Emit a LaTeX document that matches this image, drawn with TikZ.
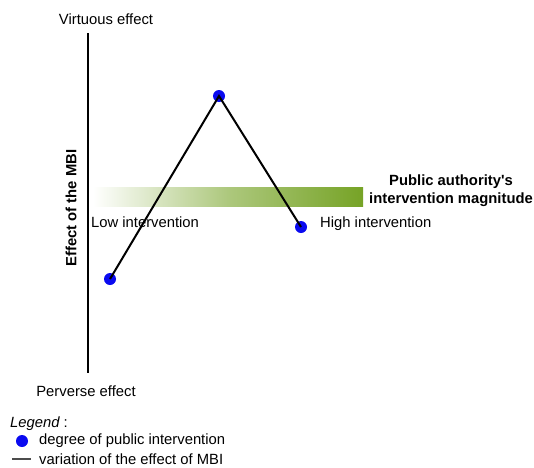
\documentclass[tikz,border=0pt]{standalone}
\usepackage{fontspec}
\setmainfont[Ligatures=TeXOff]{Liberation Sans}
\definecolor{barGreen}{RGB}{118,163,38}
\definecolor{dotBlue}{RGB}{10,10,240}
\newcommand{\lbl}{\fontsize{14.8}{17}\selectfont}

\begin{document}
\begin{tikzpicture}[x=1pt,y=-1pt,
    dot/.style={circle,fill=dotBlue,inner sep=0pt,minimum size=12pt},
    txt/.style={font=\lbl,inner sep=0pt}]
   \useasboundingbox (0,0) rectangle (534,467);
   % intervention magnitude bar
   \shade[left color=white,right color=barGreen,middle color=barGreen!60] (93,187) rectangle (363,206);
   % vertical axis
   \draw[line width=2.5pt] (88,33) -- (88,373);
   \node[txt] (virt) at (106,19) {Virtuous effect};
   \node[txt] (perv) at (86,391) {Perverse effect};
   \node[txt,font=\lbl\bfseries,rotate=90] (eff) at (71,208) {Effect of the MBI};
   \node[txt,anchor=west] (low) at (91,222) {Low intervention};
   \node[txt,anchor=west] (high) at (320,224) {High intervention};
   \node[txt,font=\lbl\bfseries,align=center] (mag) at (451,191)
      {Public authority's\\[1pt]intervention magnitude};
   % degrees of intervention
   \node[dot] (p1) at (110,279) {};
   \node[dot] (p2) at (219,96) {};
   \node[dot] (p3) at (301,227) {};
   \draw[line width=2pt] (p1.center) -- (p2.center) -- (p3.center);
   % legend
   \node[txt,anchor=west] (leg) at (10,424) {\itshape Legend\upshape\ :};
   \node[dot] (ldot) at (22,441) {};
   \node[txt,anchor=west] (ltxt1) at (39,441) {degree of public intervention};
   \coordinate (la) at (12,459);
   \coordinate (lb) at (31,459);
   \draw[line width=1.2pt,black!70] (la) -- (lb);
   \node[txt,anchor=west] (ltxt2) at (39,459) {variation of the effect of MBI};
\end{tikzpicture}
\end{document}
